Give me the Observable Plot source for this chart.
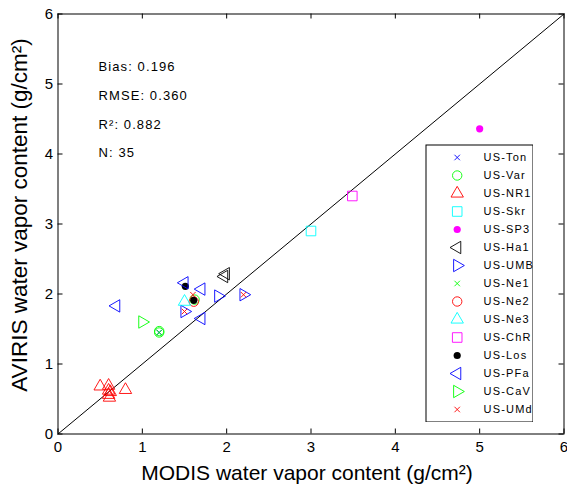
<!DOCTYPE html>
<html><head><meta charset="utf-8">
<script src="https://cdn.jsdelivr.net/npm/d3@7"></script>
<script src="https://cdn.jsdelivr.net/npm/@observablehq/plot@0.6"></script>
<style>
body{margin:0;background:#fff;}
#wrap{position:relative;width:567px;height:492px;}
#legend{position:absolute;left:425px;top:144px;}
</style></head><body><div id="wrap"><div id="main"></div><div id="legend"></div></div>
<script>
// series (legend order)
const sites = ["US-Ton","US-Var","US-NR1","US-Skr","US-SP3","US-Ha1","US-UMB","US-Ne1","US-Ne2","US-Ne3","US-ChR","US-Los","US-PFa","US-CaV","US-UMd"];
const siteColors = ["#0000ff","#00ff00","#ff0000","#00ffff","#ff00ff","#000000","#0000ff","#00ff00","#ff0000","#00ffff","#ff00ff","#000000","#0000ff","#00ff00","#ff0000"];
const siteSymbols = ["times","circle","triangle","square","circle","triangle","triangle","times","circle","triangle","square","circle","triangle","triangle","times"];
const siteRotate = [0,0,0,0,0,-90,90,0,0,0,0,0,-90,90,0];
const siteFilled = [false,false,false,false,true,false,false,false,false,false,false,true,false,false,false];
const siteRadius = [2.6,4.7,4.6,5.4,3.6,4.6,4.6,2.6,4.7,4.6,5.4,3.6,4.6,4.6,2.6];

// points (MODIS x, AVIRIS y)
const pointSite = ["US-Ton",
  "US-Var","US-Var","US-Var",
  "US-NR1","US-NR1","US-NR1","US-NR1","US-NR1","US-NR1","US-NR1",
  "US-Skr","US-SP3","US-Ha1","US-Ha1",
  "US-UMB","US-UMB","US-UMB",
  "US-Ne1","US-Ne2","US-Ne3","US-ChR",
  "US-Los","US-Los",
  "US-PFa","US-PFa","US-PFa","US-PFa",
  "US-CaV",
  "US-UMd","US-UMd","US-UMd"];
const modis = [1.2,
  1.2,1.2,1.62,
  0.5,0.6,0.6,0.6,0.61,0.8,0.62,
  3.0,5.0,1.99,1.97,
  2.2,1.9,1.5,
  1.2,1.61,1.5,3.49,
  1.51,1.61,
  1.7,1.5,1.7,0.69,
  1.0,
  2.2,1.6,1.5];
const aviris = [1.45,
  1.45,1.47,1.92,
  0.68,0.69,0.62,0.56,0.52,0.63,0.6,
  2.9,4.36,2.29,2.25,
  1.99,1.97,1.75,
  1.45,1.89,1.89,3.40,
  2.11,1.91,
  2.07,2.16,1.65,1.83,
  1.6,
  1.99,1.99,1.75];

const statLabels = ["Bias: 0.196","RMSE: 0.360","R\u00b2: 0.882","N: 35"];
const statX = [0.48,0.48,0.48,0.48];
const statY = [5.24,4.83,4.41,4.02];
const xTicks = [0,1,2,3,4,5,6];
const yTicks = [0,1,2,3,4,5,6];
const oneToOne = [0,6];
const xTitle = "MODIS water vapor content (g/cm\u00b2)";
const yTitle = "AVIRIS water vapor content (g/cm\u00b2)";

const idx = s => sites.indexOf(s);
const pts = pointSite.map((s,i)=>({site:s, x:modis[i], y:aviris[i], k:idx(s)})).sort((a,b)=>a.k-b.k);

const W=567,H=492, mL=57.5, mR=3.5, mT=13.5, mB=58.5;
const pw=W-mL-mR, ph=H-mT-mB;
const font = "'Liberation Sans', Arial, Helvetica, sans-serif";

function symbolMarks(data, opts={}) {
  const marks=[];
  sites.forEach((s,k)=>{
    const d = data.filter(p=>p.k===k);
    if(!d.length) return;
    if(siteFilled[k]) {
      marks.push(Plot.dot(d,{...opts, symbol:()=>siteSymbols[k], r:siteRadius[k], fill:siteColors[k], stroke:"none"}));
    } else {
      marks.push(Plot.dot(d,{...opts, symbol:()=>siteSymbols[k], rotate:siteRotate[k], r:siteRadius[k], fill:"none", stroke:siteColors[k], strokeWidth:0.9}));
    }
  });
  return marks;
}

const main = Plot.plot({
  width:W, height:H, marginLeft:mL, marginRight:mR, marginTop:mT, marginBottom:mB,
  style:{fontFamily:font, fontSize:"15px", color:"black", background:"white", overflow:"visible"},
  x:{domain:[0,6]}, y:{domain:[0,6]},
  marks:[
    Plot.line(oneToOne,{x:d=>d, y:d=>d, stroke:"black", strokeWidth:1}),
    ...symbolMarks(pts,{x:"x", y:"y"}),
    Plot.text(statLabels,{x:(d,i)=>statX[i], y:(d,i)=>statY[i], text:d=>d, textAnchor:"start", fontSize:13}),
    Plot.gridX(xTicks,{stroke:"black", strokeOpacity:1, insetTop:ph-5}),
    Plot.gridX(xTicks,{stroke:"black", strokeOpacity:1, insetBottom:ph-5}),
    Plot.gridY(yTicks,{stroke:"black", strokeOpacity:1, insetRight:pw-5}),
    Plot.gridY(yTicks,{stroke:"black", strokeOpacity:1, insetLeft:pw-5}),
    Plot.axisX(xTicks,{tickSize:0, tickPadding:7, label:null, fontSize:15, tickFormat:d=>String(d)}),
    Plot.axisY(yTicks,{tickSize:0, tickPadding:5, label:null, fontSize:15, tickFormat:d=>String(d)}),
    Plot.text([xTitle],{text:d=>d, frameAnchor:"bottom", textAnchor:"middle", lineAnchor:"middle", dx:-4, dy:39.5, fontSize:21}),
    Plot.text([yTitle],{text:d=>d, frameAnchor:"left", textAnchor:"middle", lineAnchor:"middle", dx:-38, dy:-9, rotate:-90, fontSize:22.5}),
    Plot.frame({stroke:"black", strokeWidth:1})
  ]
});
document.getElementById("main").appendChild(main);
main.querySelectorAll("text").forEach(t=>{
  const s = (t.textContent||"").trim();
  if (statLabels.some(l=>s===l || s.indexOf(l)>=0)) { t.setAttribute("letter-spacing","1.1"); t.style.letterSpacing="1.1px"; }
});

const legend = Plot.plot({
  width:108, height:278, marginLeft:0.5, marginRight:0.5, marginTop:0.5, marginBottom:0.5,
  style:{fontFamily:font, fontSize:"11px", color:"black", background:"white"},
  x:{domain:[0,1], axis:null},
  y:{type:"point", domain:sites, range:[12.7,266], padding:0, axis:null},
  marks:[
    ...symbolMarks(sites.map((s,k)=>({site:s,k})),{y:"site", frameAnchor:"left", dx:31.2}),
    Plot.text(sites,{y:d=>d, text:d=>d, frameAnchor:"left", dx:57.5, textAnchor:"start", fontSize:11}),
    Plot.frame({stroke:"black", strokeWidth:1})
  ]
});
document.getElementById("legend").appendChild(legend);
legend.querySelectorAll("text").forEach(t=>{ t.style.letterSpacing="1.2px"; });
</script></body></html>
